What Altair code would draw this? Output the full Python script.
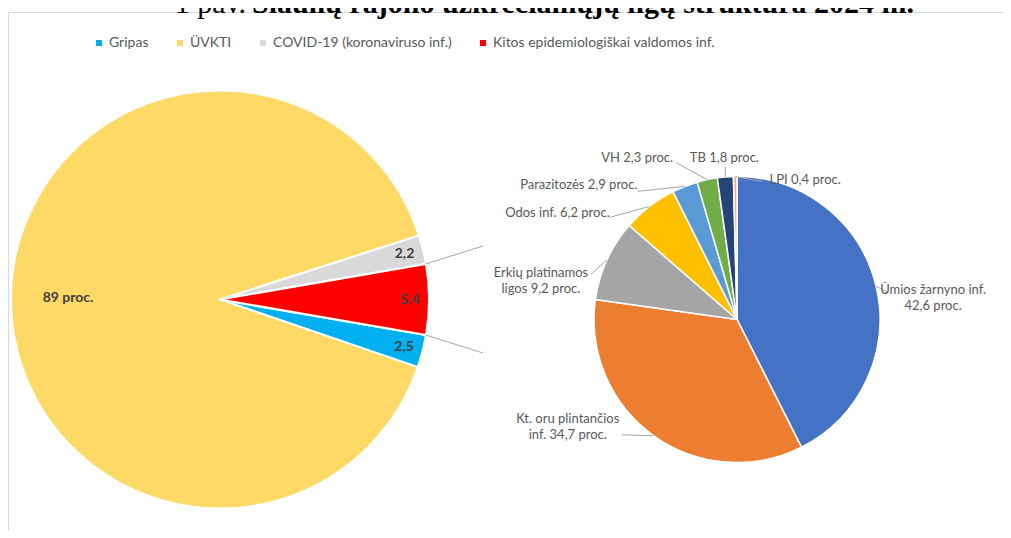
import math
import altair as alt
import pandas as pd

# ---------------- data ----------------
main_categories = ["Gripas", "ÜVKTI", "COVID-19 (koronaviruso inf.)",
                   "Kitos epidemiologiškai valdomos inf."]
main_values = [2.5, 89.0, 2.2, 5.4]
main_labels = ["2,5", "89 proc.", "2,2", "5,4"]
# clockwise drawing order of the first pie (starting just before the split-off slice)
main_clockwise = ["COVID-19 (koronaviruso inf.)", "Kitos epidemiologiškai valdomos inf.",
                  "Gripas", "ÜVKTI"]
split_category = "Kitos epidemiologiškai valdomos inf."

other_categories = ["Ūmios žarnyno inf.", "Kt. oru plintančios inf.", "Erkių platinamos ligos",
                    "Odos inf.", "Parazitozės", "VH", "TB", "LPI"]
other_values = [42.6, 34.7, 9.2, 6.2, 2.9, 2.3, 1.8, 0.4]
other_labels = ["Ūmios žarnyno inf.\n42,6 proc.", "Kt. oru plintančios\ninf. 34,7 proc.",
                "Erkių platinamos\nligos 9,2 proc.", "Odos inf. 6,2 proc.",
                "Parazitozės 2,9 proc.", "VH 2,3 proc.", "TB 1,8 proc.", "LPI 0,4 proc."]

title_prefix = "1 pav."
title_main = "Šiaulių rajono užkrečiamųjų ligų struktūra 2024 m."

# ---------------- styles / layout ----------------
main_colors = ["#00B0F0", "#FFD966", "#D9D9D9", "#FF0000"]
other_colors = ["#4472C4", "#ED7D31", "#A5A5A5", "#FFC000", "#5B9BD5", "#70AD47",
                "#264478", "#F4B183"]

W, H = 995, 522
OFF = 8


def px(v):
    return v - OFF


L_CX, L_CY, L_R = 220, 299.5, 209
R_CX, R_CY, R_R = 737, 319.5, 143
label_r_big, label_r_small = 152, 190
LINE_H = 16

# label offsets relative to slice edge anchor: (text dx, text dy, leader dx, leader dy)
other_label_layout = [
    (57, 12, 12, 6),
    (-86, -9, -32, -1),
    (-66, 21, -16, 14),
    (-92, 7, -40, 11),
    (-106, -1, -47, 5),
    (-70, -22, -31, -17),
    (-1, -19, 0, -10),
    (70, 3, 27, 5),
]
connector_ends = [(483, 246), (483, 353)]

# ---------------- first pie ----------------
total_main = sum(main_values)
val_of = dict(zip(main_categories, main_values))
before_split = 0.0
for c in main_clockwise:
    if c == split_category:
        break
    before_split += val_of[c]
split_start = before_split / total_main * 2 * math.pi
split_end = (before_split + val_of[split_category]) / total_main * 2 * math.pi
a0 = math.pi / 2 - (split_start + split_end) / 2  # split slice centred at 3 o'clock

main_df = pd.DataFrame({
    "category": main_categories,
    "value": main_values,
    "ord": [main_clockwise.index(c) for c in main_categories],
})

main_arcs = alt.Chart(main_df).mark_arc(radius=L_R, stroke="white", strokeWidth=2).encode(
    theta=alt.Theta("value:Q", stack=True,
                    scale=alt.Scale(domain=[0, total_main],
                                    range=[a0 - 2 * math.pi, a0])),
    order=alt.Order("ord:Q"),
    x=alt.value(px(L_CX)),
    y=alt.value(px(L_CY)),
    color=alt.Color(
        "category:N",
        scale=alt.Scale(domain=main_categories, range=main_colors),
        legend=alt.Legend(
            title=None, orient="none", direction="horizontal",
            legendX=84, legendY=28, symbolType="square", symbolSize=36,
            symbolStrokeWidth=0, labelFont="Lato", labelFontSize=14,
            labelColor="#595959", columnPadding=24, padding=0, labelOffset=3,
            labelLimit=0,
        ),
    ),
)

# label positions for the first pie from the slice mid-angles
main_label_rows = []
cum = 0.0
for c in main_clockwise:
    v = val_of[c]
    mid = a0 + (cum + v / 2) / total_main * 2 * math.pi
    cum += v
    r = label_r_big if v == max(main_values) else label_r_small
    main_label_rows.append({
        "x": px(L_CX + r * math.sin(mid)),
        "y": px(L_CY - r * math.cos(mid)),
        "label": main_labels[main_categories.index(c)],
    })
main_text = alt.Chart(pd.DataFrame(main_label_rows)).mark_text(
    font="Lato", fontSize=14, fontWeight="bold", color="#404040",
    align="center", baseline="middle").encode(
    x=alt.X("x:Q", scale=None, axis=None),
    y=alt.Y("y:Q", scale=None, axis=None),
    text="label:N",
)

# connector lines from split slice edges
conn_rows = []
for ang, (ex, ey) in zip([a0 + split_start, a0 + split_end], connector_ends):
    sx = L_CX + L_R * math.sin(ang)
    sy = L_CY - L_R * math.cos(ang)
    conn_rows.append({"x": px(sx), "y": px(sy), "x2": px(ex), "y2": px(ey)})

# ---------------- second pie ----------------
total_other = sum(other_values)
other_df = pd.DataFrame({
    "category": other_categories,
    "value": other_values,
    "ord": list(range(len(other_categories))),
})
right_arcs = alt.Chart(other_df).mark_arc(radius=R_R, stroke="white", strokeWidth=1.5).encode(
    theta=alt.Theta("value:Q", stack=True,
                    scale=alt.Scale(domain=[0, total_other], range=[0, 2 * math.pi])),
    order=alt.Order("ord:Q"),
    color=alt.Color("category:N",
                    scale=alt.Scale(domain=other_categories, range=other_colors),
                    legend=None),
    x=alt.value(px(R_CX)),
    y=alt.value(px(R_CY)),
)

text_rows, leader_rows = [], []
cum = 0.0
for cat, v, lab, (tdx, tdy, ldx, ldy) in zip(other_categories, other_values,
                                             other_labels, other_label_layout):
    mid = (cum + v / 2) / total_other * 2 * math.pi
    cum += v
    ax = R_CX + R_R * math.sin(mid)
    ay = R_CY - R_R * math.cos(mid)
    n_lines = lab.count("\n") + 1
    text_rows.append({"x": px(ax + tdx),
                      "y": px(ay + tdy - (n_lines - 1) * LINE_H / 2),
                      "label": lab})
    leader_rows.append({"x": px(ax), "y": px(ay), "x2": px(ax + ldx), "y2": px(ay + ldy)})

text_df = pd.DataFrame(text_rows)
leader_df = pd.DataFrame(leader_rows + conn_rows)

leaders = alt.Chart(leader_df).mark_rule(color="#A6A6A6", strokeWidth=1).encode(
    x=alt.X("x:Q", scale=None, axis=None),
    y=alt.Y("y:Q", scale=None, axis=None),
    x2="x2:Q",
    y2="y2:Q",
)
right_text = alt.Chart(text_df).mark_text(font="Lato", fontSize=13, color="#595959",
                                          lineBreak="\n", lineHeight=LINE_H,
                                          baseline="middle", align="center").encode(
    x=alt.X("x:Q", scale=None, axis=None),
    y=alt.Y("y:Q", scale=None, axis=None),
    text="label:N",
)

# ---------------- frame & title ----------------
frame_top = alt.Chart(pd.DataFrame({"a": [0]})).mark_rule(color="#D9D9D9", strokeWidth=1).encode(
    x=alt.value(0), x2=alt.value(W), y=alt.value(px(12.5)))
frame_left = alt.Chart(pd.DataFrame({"a": [0]})).mark_rule(color="#D9D9D9", strokeWidth=1).encode(
    x=alt.value(0.5), y=alt.value(px(12)), y2=alt.value(H))

title_a = alt.Chart(pd.DataFrame({"t": [title_prefix]})).mark_text(
    font="Liberation Serif", fontSize=30, align="right", baseline="alphabetic",
    color="#000000").encode(text="t:N", x=alt.value(px(246)), y=alt.value(px(13)))
title_b = alt.Chart(pd.DataFrame({"t": [title_main]})).mark_text(
    font="Liberation Serif", fontSize=30, fontWeight="bold", align="left",
    baseline="alphabetic", color="#000000").encode(
    text="t:N", x=alt.value(px(252)), y=alt.value(px(13)))

chart = alt.layer(
    frame_top, frame_left, title_a, title_b,
    main_arcs, main_text, right_arcs, leaders, right_text,
).resolve_scale(theta="independent", color="independent").properties(
    width=W, height=H, padding=0, autosize=alt.AutoSizeParams(type="none"),
    background="white",
).configure_view(stroke=None)

chart.save("out.html", embed_options={"renderer": "svg", "actions": False})
